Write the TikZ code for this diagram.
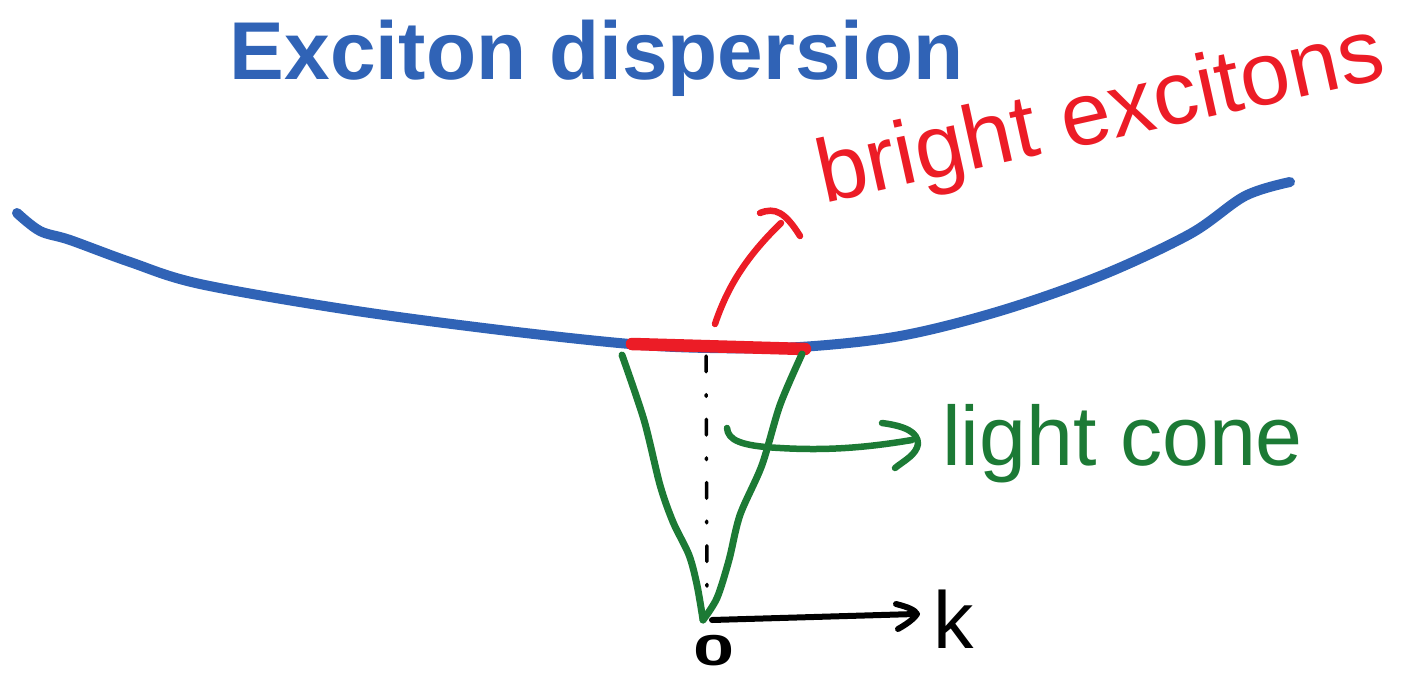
\documentclass[tikz,border=0pt]{standalone}
\usepackage{fontspec}
\setmainfont{Liberation Sans}
\usetikzlibrary{arrows.meta}
\definecolor{inkblue}{HTML}{3063B6}
\definecolor{inkred}{HTML}{EC1C26}
\definecolor{inkgreen}{HTML}{1C7A35}
\tikzset{
  disp/.style={draw=inkblue, line width=0.2cm, line cap=round, line join=round},
  bright/.style={draw=inkred, line width=0.25cm, line cap=round},
  cone/.style={draw=inkgreen, line width=0.14cm, line cap=round, line join=round},
  pointer/.style={line width=0.13cm, line cap=round, line join=round},
  openhead/.style={line width=0.13cm, line cap=round, line join=round},
  axisline/.style={draw=black, line width=0.12cm, line cap=round, line join=round},
  label/.style={inner sep=0pt, outer sep=0pt},
}
\begin{document}
\begin{tikzpicture}[x=0.02cm, y=-0.02cm]
\useasboundingbox (0,0) rectangle (1425,672);
\clip (0,0) rectangle (1425,672);
% title
\node[label, text=inkblue, font=\bfseries\fontsize{46.7}{50}\selectfont, anchor=base] (title) at (597,80) {Exciton dispersion};
% dispersion curve
\draw[disp] plot[smooth, tension=0.55] coordinates {(17,213) (40,231) (70,240) (130,262) (200,284) (350,310) (500,330) (630,344) (710,348) (800,347) (900,336) (1000,311) (1100,276) (1190,234) (1245,196) (1290,182)};
% bright segment
\coordinate (bl) at (632,344);
\coordinate (br) at (805,349);
\draw[bright] (bl) -- (br);
% red pointer
\coordinate (rstart) at (715,324);
\coordinate (rtip) at (781,223);
\draw[pointer, draw=inkred] (rstart) .. controls (728,285) and (748,255) .. (rtip);
\draw[openhead, draw=inkred] (760,213) .. controls (775,207) and (785,212) .. (800,236);
\node[label, text=inkred, font=\fontsize{51}{54}\selectfont, rotate=12.5, anchor=base west] (brightlbl) at (824,203) {bright excitons};
% light cone
\coordinate (origin) at (703,620);
\coordinate (cl) at (622,355);
\coordinate (cr) at (802,354);
\draw[cone] plot[smooth, tension=0.5] coordinates {(cl) (644,420) (660,485) (673,522) (689,555) (697,585) (origin)};
\draw[cone] plot[smooth, tension=0.5] coordinates {(cr) (780,405) (762,465) (740,515) (729,560) (717,598) (origin)};
% dash-dot axis
\coordinate (vtop) at (706,356);
\coordinate (vbot) at (707,600);
\draw[black, line width=0.07cm, line cap=round, dash pattern=on 9pt off 13pt on 1pt off 13pt] (vtop) -- (vbot);
% green pointer
\coordinate (gstart) at (727,428);
\coordinate (gtip) at (912,440);
\draw[pointer, draw=inkgreen] (gstart) .. controls (728,440) and (740,446) .. (780,448) .. controls (830,451) and (870,447) .. (gtip);
\draw[openhead, draw=inkgreen] (882,423) .. controls (905,426) and (918,432) .. (918,444) .. controls (916,455) and (905,460) .. (895,468);
\node[label, text=inkgreen, font=\fontsize{48}{50}\selectfont, anchor=base west] (conelbl) at (942,465) {light cone};
% k axis
\coordinate (ktip) at (915,614);
\draw[axisline] (712,620) -- (ktip);
\draw[axisline] (896,604) .. controls (908,607) and (915,610) .. (917,614) .. controls (913,620) and (905,625) .. (898,629);
\node[label, font=\fontsize{46}{50}\selectfont, anchor=base west] (klbl) at (933,648) {k};
\node[label, font=\bfseries\fontsize{29}{30}\selectfont, xscale=1.45, yscale=0.85] (zero) at (714,651) {0};
\end{tikzpicture}
\end{document}
